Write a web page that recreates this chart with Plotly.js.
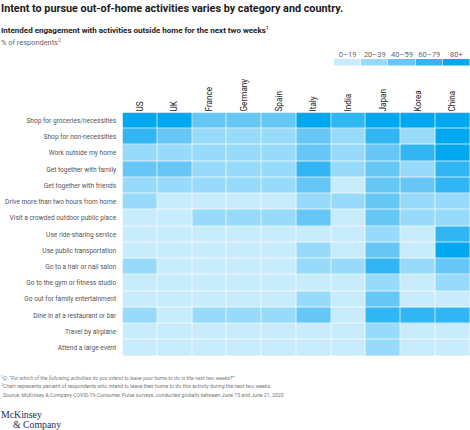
<!DOCTYPE html>
<html><head><meta charset="utf-8">
<script src="https://cdn.plot.ly/plotly-3.0.1.min.js"></script>
<style>html,body{margin:0;padding:0;background:#fff}</style></head>
<body><div id="chart" style="width:470px;height:430px"></div>
<script>
const countries = ["US","UK","France","Germany","Spain","Italy","India","Japan","Korea","China"];
const activities = ["Shop for groceries/necessities","Shop for non-necessities","Work outside my home","Get together with family","Get together with friends","Drive more than two hours from home","Visit a crowded outdoor public place","Use ride-sharing service","Use public transportation","Go to a hair or nail salon","Go to the gym or fitness studio","Go out for family entertainment","Dine in at a restaurant or bar","Travel by airplane","Attend a large event"];
const groceries = [85,85,50,50,50,85,70,85,85,85];
const nonNecessities = [70,50,30,30,30,50,30,65,30,85];
const workOutside = [30,30,30,30,30,50,30,50,70,85];
const family = [50,50,30,30,30,70,30,50,30,70];
const friends = [30,30,30,30,30,50,10,50,50,70];
const drive = [30,10,10,10,10,30,30,50,30,30];
const crowded = [10,10,30,30,30,50,10,50,30,30];
const rideShare = [10,10,10,10,10,10,10,30,10,70];
const publicTransport = [10,10,10,10,10,30,10,50,10,85];
const salon = [30,10,10,10,10,30,30,70,30,50];
const gym = [10,10,10,10,10,10,10,30,10,30];
const entertainment = [10,10,10,10,10,30,10,50,10,10];
const dineIn = [30,10,30,30,30,50,10,70,70,70];
const airplane = [10,10,10,10,10,10,10,30,10,10];
const largeEvent = [10,10,10,10,10,10,10,30,10,10];
const legendLabels = ["0–19","20–39","40–59","60–79","80+"];
const legendValues = [10,30,50,70,90];
const palette = ["#c9ecfd","#97daf9","#66c7f6","#31b5f3","#00a8f0"];

const matrix = [groceries,nonNecessities,workOutside,family,friends,drive,crowded,rideShare,publicTransport,salon,gym,entertainment,dineIn,airplane,largeEvent];
const scale = [];
palette.forEach((c,i)=>{scale.push([i/5,c]);scale.push([(i+1)/5,c]);});
const W=470,H=430;
const FONT="Roboto, sans-serif";
const note=(x,y,text,size,color,extra)=>Object.assign({xref:"paper",yref:"paper",x:x/W,y:1-y/H,xanchor:"left",yanchor:"middle",showarrow:false,align:"left",xshift:-1,text:text,font:{family:FONT,size:size,color:color}},extra||{});
const SERIF={family:"Liberation Serif, serif",size:9.8,color:"#1c2b4a"};

const traces=[
 {type:"heatmap",x:countries,y:activities,z:matrix,colorscale:scale,zmin:0,zmax:100,showscale:false,xgap:0.7,ygap:0.7,xaxis:"x",yaxis:"y"},
 {type:"heatmap",x:legendLabels,y:["legend"],z:[legendValues],colorscale:scale,zmin:0,zmax:100,showscale:false,xgap:0.5,xaxis:"x2",yaxis:"y2"}
];
const layout={
 width:W,height:H,margin:{l:0,r:0,t:0,b:0},paper_bgcolor:"#fff",plot_bgcolor:"#fff",font:{family:FONT},
 xaxis:{domain:[122.5/W,1],side:"top",tickangle:-90,ticks:"",showgrid:false,zeroline:false,tickfont:{family:FONT,size:8.2,color:"#222"},fixedrange:true},
 yaxis:{domain:[1-356/H,1-112.5/H],autorange:"reversed",ticks:"outside",ticklen:4,tickcolor:"rgba(0,0,0,0)",showgrid:false,zeroline:false,tickfont:{family:FONT,size:6.6,color:"#555"},fixedrange:true},
 xaxis2:{domain:[334/W,1],side:"top",anchor:"y2",ticks:"",showgrid:false,zeroline:false,tickfont:{family:FONT,size:7.5,color:"#666"},fixedrange:true},
 yaxis2:{domain:[1-65.5/H,1-59/H],anchor:"x2",showticklabels:false,ticks:"",showgrid:false,zeroline:false,fixedrange:true},
 annotations:[
  note(0,8.5,"<b>Intent to pursue out-of-home activities varies by category and country.</b>",10.8,"#1a1a1a"),
  note(0,30,"<b>Intended engagement with activities outside home for the next two weeks</b><sup>1</sup>",8,"#222"),
  note(0,42,"% of respondents<sup>2</sup>",7.4,"#666"),
  note(0,378,"<sup>1</sup><i>Q: “For which of the following activities do you intend to leave your home to do in the next two weeks?”</i>",5.25,"#777"),
  note(0,385.5,"<sup>2</sup>Chart represents percent of respondents who intend to leave their home to do this activity during the next two weeks.",5.2,"#777"),
  note(2,395,"Source: McKinsey &amp; Company COVID-19 Consumer Pulse surveys, conducted globally between June 15 and June 21, 2020",5.2,"#777"),
  note(0,414.5,"McKinsey",9.8,"#1c2b4a",{font:SERIF}),
  note(12,424,"&amp; Company",9.8,"#1c2b4a",{font:SERIF})
 ]
};
Plotly.newPlot("chart",traces,layout,{displayModeBar:false,staticPlot:true});
</script></body></html>
